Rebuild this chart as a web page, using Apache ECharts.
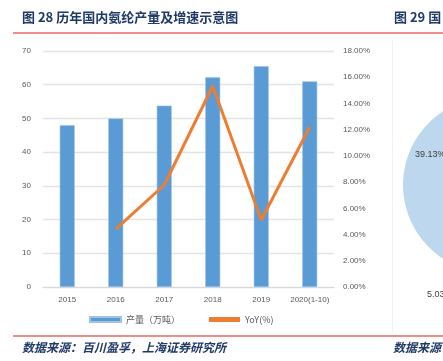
<!DOCTYPE html>
<html><head><meta charset="utf-8">
<script src="https://cdn.jsdelivr.net/npm/echarts@6/dist/echarts.min.js"></script>
<style>html,body{margin:0;padding:0;background:#fff}#c{width:443px;height:361px}</style>
</head><body><div id="c"></div>
<script>
const categories = ['2015','2016','2017','2018','2019','2020(1-10)'];
const output = [48, 50, 53.8, 62.2, 65.5, 61];
const yoy = [null, 4.42, 7.78, 15.33, 5.11, 12.2];
const pieValues = [39.13, 5.03, 55.84];
const pieLabels = ['39.13%', '5.03'];

const chart = echarts.init(document.getElementById('c'), null, {renderer:'canvas'});
const axisTxt = {color:'#595959', fontSize:8, fontFamily:'Liberation Sans, Arial'};
chart.setOption({
  animation:false,
  grid:{left:43, right:109, top:51, bottom:74},
  legend:{
    bottom:32, left:84, itemGap:29, itemWidth:31, itemHeight:5,
    textStyle:{color:'#595959', fontSize:9, fontFamily:'Noto Sans CJK SC'},
    data:[{name:'产量（万吨）', icon:'rect'}, {name:'YoY(%)', icon:'rect', itemStyle:{color:'#ED7D31'}}]
  },
  xAxis:{type:'category', data:categories, axisTick:{show:false},
    axisLine:{lineStyle:{color:'#D9D9D9'}}, axisLabel:Object.assign({margin:9, interval:0},axisTxt)},
  yAxis:[
    {type:'value', min:0, max:70, interval:10, axisLine:{show:false}, axisTick:{show:false},
     splitLine:{lineStyle:{color:'#E4E4E4', width:1.3}}, axisLabel:Object.assign({margin:12},axisTxt)},
    {type:'value', min:0, max:18, interval:2, axisLine:{show:false}, axisTick:{show:false},
     splitLine:{show:false}, axisLabel:Object.assign({margin:9, formatter:v=>v.toFixed(2)+'%'},axisTxt)}
  ],
  series:[
    {name:'产量（万吨）', type:'bar', data:output, barWidth:15,
     itemStyle:{color:'#5B9BD5', borderColor:'#9DC3E6', borderWidth:0.6}},
    {name:'YoY(%)', type:'line', yAxisIndex:1, data:yoy, symbol:'none',
     lineStyle:{color:'#ED7D31', width:3}, itemStyle:{color:'#ED7D31'}},
    {name:'pie', type:'pie', center:[491,185], radius:88, silent:true, label:{show:false}, z:1,
     startAngle:90, data:pieValues.map(v=>({value:v, itemStyle:{color:'#BDD7EE'}}))}
  ],
  graphic:[
    {type:'text', z:100, left:22, top:11, style:{text:'图 28 历年国内氨纶产量及增速示意图', fill:'#1F3A68', font:'bold 13px "Noto Sans CJK SC"'}},
    {type:'text', z:100, left:394, top:11, style:{text:'图 29 国', fill:'#1F3A68', font:'bold 13px "Noto Sans CJK SC"'}},
    {type:'rect', z:100, shape:{x:13, y:32, width:430, height:2}, style:{fill:'#F08C8A'}},
    {type:'rect', z:100, shape:{x:13, y:335, width:430, height:2}, style:{fill:'#F08C8A'}},
    {type:'rect', z:0, shape:{x:392, y:40, width:1, height:292}, style:{fill:'#F2F2F2'}},
    {type:'text', z:100, left:22, top:341, style:{text:'数据来源：百川盈孚，上海证券研究所', fill:'#1F3A68', font:'italic bold 12px "Noto Sans CJK SC"'}},
    {type:'text', z:100, left:393, top:341, style:{text:'数据来源', fill:'#1F3A68', font:'italic bold 12px "Noto Sans CJK SC"'}},
    {type:'text', z:100, left:415, top:150, style:{text:pieLabels[0], fill:'#404040', font:'9px "Liberation Sans"'}},
    {type:'text', z:100, left:427, top:290, style:{text:pieLabels[1], fill:'#404040', font:'9px "Liberation Sans"'}}
  ]
});
</script></body></html>
